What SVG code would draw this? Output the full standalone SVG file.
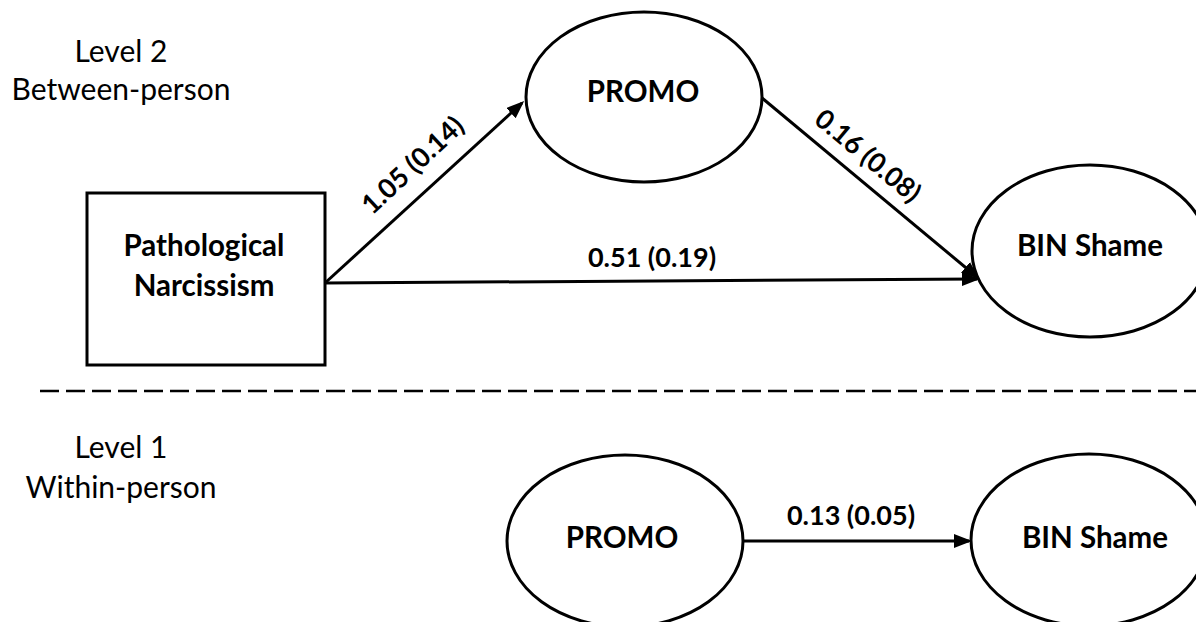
<svg xmlns="http://www.w3.org/2000/svg" width="1196" height="622" viewBox="0 0 1196 622">
  <defs>
    <marker id="arrow" markerUnits="userSpaceOnUse" markerWidth="20" markerHeight="16" refX="15" refY="7" orient="auto">
      <path d="M0,0 L18,7 L0,14 Z" fill="#000"/>
    </marker>
    <style>
      .shape { fill: #fff; stroke: #000; stroke-width: 3; }
      .edge { fill: none; stroke: #000; stroke-width: 3; }
      .node-label { font-family: Lato, "Liberation Sans", sans-serif; font-weight: bold; font-size: 29.5px; fill: #000; text-anchor: middle; }
      .edge-label { font-family: Lato, "Liberation Sans", sans-serif; font-weight: bold; font-size: 27px; fill: #000; text-anchor: middle; }
      .level-label { font-family: Lato, "Liberation Sans", sans-serif; font-size: 30px; fill: #000; text-anchor: middle; }
    </style>
  </defs>
  <rect width="1196" height="622" fill="#fff"/>

  <!-- level captions -->
  <g id="level2-caption">
    <text class="level-label" x="121" y="62">Level 2</text>
    <text class="level-label" x="121" y="100">Between-person</text>
  </g>
  <g id="level1-caption">
    <text class="level-label" x="121" y="458">Level 1</text>
    <text class="level-label" x="121" y="498">Within-person</text>
  </g>

  <!-- separator between the two levels -->
  <line id="level-separator" x1="40" y1="391" x2="1196" y2="391" stroke="#000" stroke-width="2.5" stroke-dasharray="19 7"/>

  <!-- connectors -->
  <g id="connectors">
    <line class="edge" x1="325" y1="283" x2="522" y2="103" marker-end="url(#arrow)"/>
    <line class="edge" x1="325" y1="283" x2="977" y2="279" marker-end="url(#arrow)"/>
    <line class="edge" x1="762" y1="98" x2="977" y2="277" marker-end="url(#arrow)"/>
    <line class="edge" x1="743" y1="541" x2="969" y2="541" marker-end="url(#arrow)"/>
    <text class="edge-label" transform="translate(419,172) rotate(-43)">1.05 (0.14)</text>
    <text class="edge-label" transform="translate(862,163) rotate(39.8)">0.16 (0.08)</text>
    <text class="edge-label" x="652" y="267">0.51 (0.19)</text>
    <text class="edge-label" x="851" y="525">0.13 (0.05)</text>
  </g>

  <!-- level 2 nodes -->
  <g id="narcissism">
    <rect class="shape" x="87" y="193" width="238" height="172"/>
    <text class="node-label" x="204" y="256">Pathological</text>
    <text class="node-label" x="204" y="296">Narcissism</text>
  </g>
  <g id="promo-between">
    <ellipse class="shape" cx="644" cy="97" rx="118" ry="85"/>
    <text class="node-label" x="643" y="102">PROMO</text>
  </g>
  <g id="shame-between">
    <ellipse class="shape" cx="1090" cy="251" rx="118" ry="86"/>
    <text class="node-label" x="1090" y="256">BIN Shame</text>
  </g>

  <!-- level 1 nodes -->
  <g id="promo-within">
    <ellipse class="shape" cx="625" cy="541" rx="118" ry="86"/>
    <text class="node-label" x="622" y="548">PROMO</text>
  </g>
  <g id="shame-within">
    <ellipse class="shape" cx="1089" cy="540" rx="118" ry="86"/>
    <text class="node-label" x="1095" y="548">BIN Shame</text>
  </g>
</svg>
